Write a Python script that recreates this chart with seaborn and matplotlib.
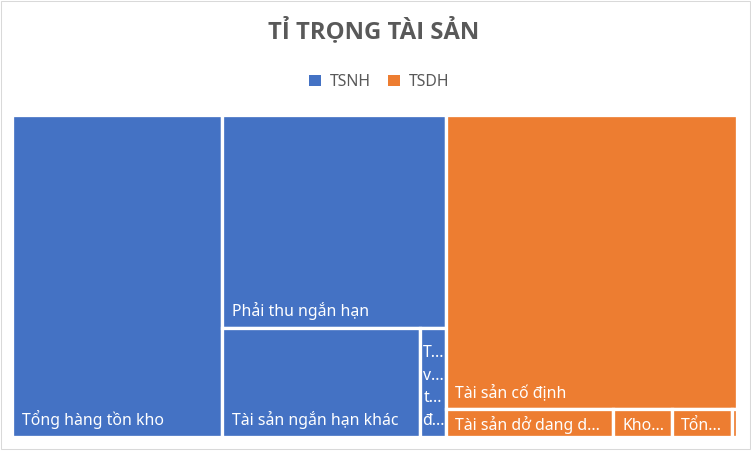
import matplotlib
matplotlib.use("Agg")
import matplotlib.pyplot as plt
from matplotlib.patches import Patch, Rectangle
from matplotlib.font_manager import FontProperties
import seaborn as sns

# ---------------- data ----------------
title_text = "TỈ TRỌNG TÀI SẢN"
group_names = ["TSNH", "TSDH"]
group_colors = ["#4472C4", "#ED7D31"]
tsnh_items = ["Tổng hàng tồn kho", "Phải thu ngắn hạn", "Tài sản ngắn hạn khác",
              "Tiền và tương đương tiền"]
tsnh_values = [28.97, 20.41, 9.26, 1.22]
tsdh_items = ["Tài sản cố định", "Tài sản dở dang dài hạn",
              "Khoản đầu tư tài chính dài hạn", "Tổng tài sản dài hạn khác",
              "Bất động sản đầu tư"]
tsdh_values = [36.69, 1.98, 0.70, 0.72, 0.06]

# ---------------- style ----------------
sns.set_theme(style="white")
FONT = ["Noto Sans", "DejaVu Sans"]
plt.rcParams["font.family"] = FONT
TEXT_GREY = "#595959"

FIG_W, FIG_H, DPI = 751, 451, 100
fig = plt.figure(figsize=(FIG_W / DPI, FIG_H / DPI), dpi=DPI)
fig.patch.set_facecolor("white")

# plot area (pixels, top-left origin)
PL, PT, PR, PB = 12.35, 115.0, 737.35, 436.65
W, H = PR - PL, PB - PT
ax = fig.add_axes([PL / FIG_W, 1 - PB / FIG_H, W / FIG_W, H / FIG_H])
ax.set_xlim(0, W)
ax.set_ylim(H, 0)
ax.axis("off")


# ---------------- squarified treemap layout ----------------
def worst(row, side):
    s = sum(row)
    return max(max(side * side * r / (s * s), s * s / (side * side * r)) for r in row)


def squarify(values, x, y, w, h):
    total = sum(values)
    areas = [v * w * h / total for v in values]
    rects = []
    i = 0
    while i < len(areas):
        side = min(w, h)
        row = [areas[i]]
        j = i + 1
        while j < len(areas) and worst(row + [areas[j]], side) <= worst(row, side):
            row.append(areas[j])
            j += 1
        s = sum(row)
        if w >= h:
            cw = s / h
            cy = y
            for a in row:
                rh = a / cw
                rects.append((x, cy, cw, rh))
                cy += rh
            x += cw
            w -= cw
        else:
            rh = s / w
            cx = x
            for a in row:
                rw = a / rh
                rects.append((cx, y, rw, rh))
                cx += rw
            y += rh
            h -= rh
        i = j
    return rects


group_items = [tsnh_items, tsdh_items]
group_values = [tsnh_values, tsdh_values]
group_rects = squarify([sum(v) for v in group_values], 0, 0, W, H)

GAP = 3.3  # white separation in px
leaves = []
for gi, (gx, gy, gw, gh) in enumerate(group_rects):
    sub = squarify(group_values[gi], gx, gy, gw, gh)
    for name, r in zip(group_items[gi], sub):
        leaves.append((name, gi, r))

for name, gi, (x, y, w, h) in leaves:
    ax.bar(x, h, width=w, bottom=y, align="edge", color=group_colors[gi],
           edgecolor="white", linewidth=GAP * 72 / DPI)

# ---------------- labels ----------------
renderer = fig.canvas.get_renderer()
LABEL_SIZE = 11.4
label_prop = FontProperties(family=FONT, size=LABEL_SIZE)


def tw(s):
    w, _, _ = renderer.get_text_width_height_descent(s, label_prop, ismath=False)
    return w


PAD_FIT = 6.5
PAD_X = 7.5
LINE = 22.6
CAP = 11.3


def fit_chars(s, avail):
    if tw(s) <= avail:
        return s
    for k in range(len(s) - 1, 0, -1):
        t = s[:k].rstrip() + "..."
        if tw(t) <= avail:
            return t
    return s[0] + "..."


for name, gi, (x, y, w, h) in leaves:
    vx, vy, vw, vh = x + GAP / 2, y + GAP / 2, w - GAP, h - GAP
    if vw < 12 or vh < 14:
        continue
    avail = vw - 2 * PAD_FIT
    max_lines = max(1, int((vh - 10 - CAP - 5) // LINE) + 1)
    if tw(name) <= avail or max_lines == 1:
        lines = [fit_chars(name, avail)]
    else:
        lines, cur = [], ""
        for wd in name.split():
            cand = (cur + " " + wd).strip()
            if tw(cand) <= avail:
                cur = cand
            else:
                if cur:
                    lines.append(cur)
                cur = wd
        lines.append(cur)
        lines = [fit_chars(l, avail) for l in lines][:max_lines]
    bottom_off = 10 if vh > 40 else 5
    n = len(lines)
    for i, l in enumerate(lines):
        base = vy + vh - bottom_off - (n - 1 - i) * LINE
        lw = tw(l)
        lx = vx + PAD_X if lw <= avail else vx + max(0.0, (vw - lw) / 2)
        ax.text(lx, base, l, ha="left", va="baseline", color="white",
                fontproperties=label_prop)

# ---------------- title & legend ----------------
fig.text(374 / FIG_W, 1 - 38.3 / FIG_H, title_text, ha="center", va="baseline",
         fontsize=17.2, fontweight="bold", color=TEXT_GREY,
         family=["Open Sans", "DejaVu Sans"])

handles = [Patch(facecolor=c, edgecolor="none", label=g)
           for g, c in zip(group_names, group_colors)]
fig.legend(handles=handles, loc="center", bbox_to_anchor=(379.5 / FIG_W, 1 - 82 / FIG_H),
           ncol=2, frameon=False, handlelength=0.73, handleheight=0.73,
           handletextpad=0.59, columnspacing=1.1, fontsize=LABEL_SIZE,
           labelcolor=TEXT_GREY, borderpad=0, borderaxespad=0)

# chart border
fig.add_artist(Rectangle((0.7 / FIG_W, (FIG_H - 448.5) / FIG_H),
                         (749.5 - 0.7) / FIG_W, (448.5 - 0.7) / FIG_H,
                         transform=fig.transFigure, fill=False,
                         edgecolor="#D9D9D9", linewidth=0.75))

fig.savefig("out.png", dpi=DPI, facecolor="white")
